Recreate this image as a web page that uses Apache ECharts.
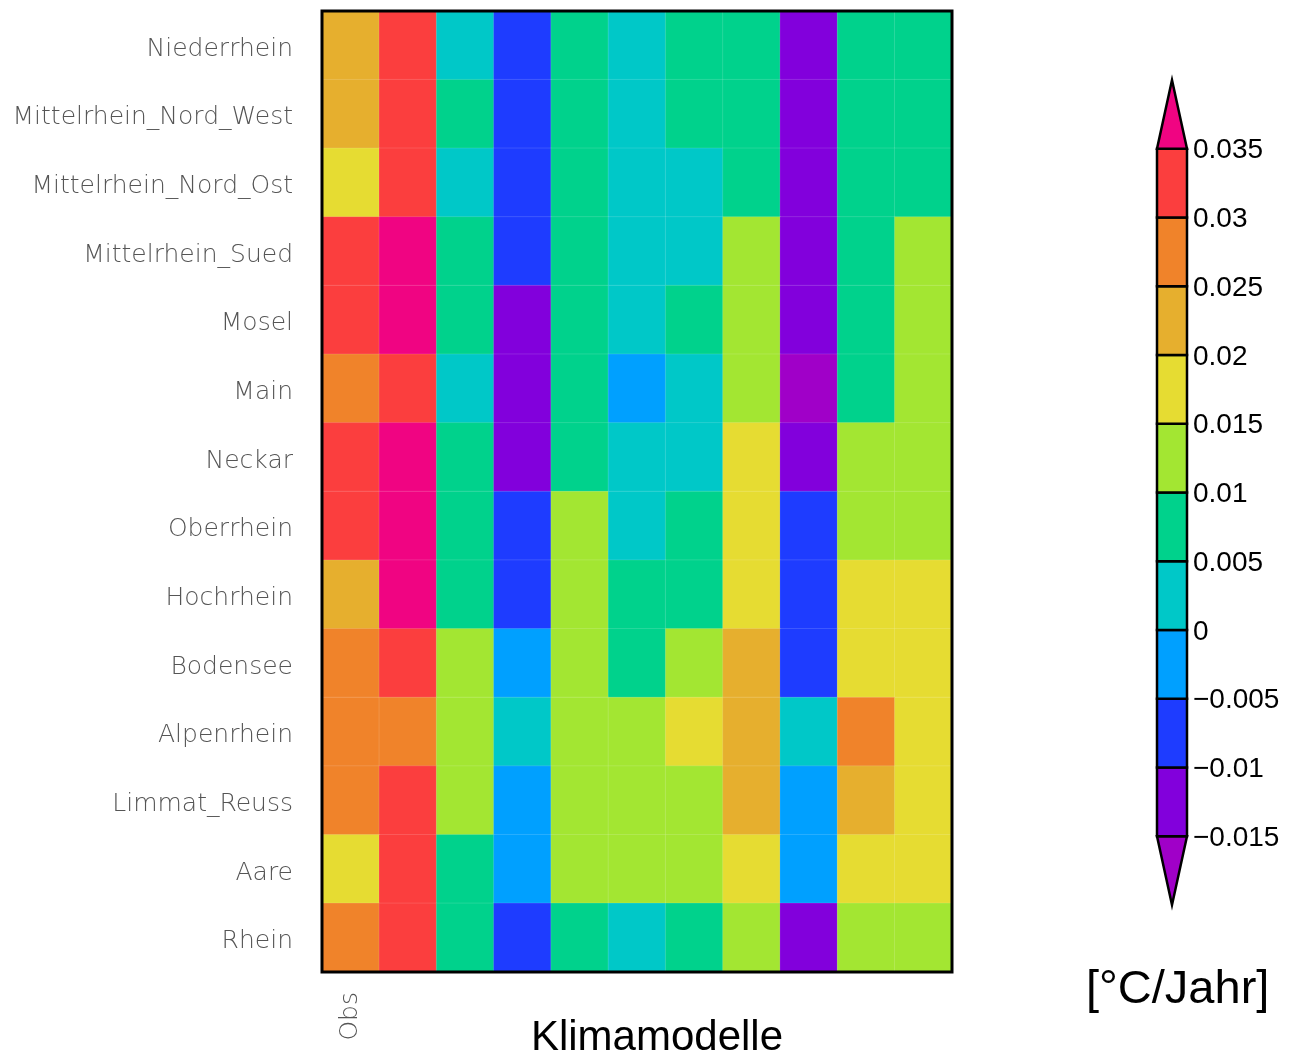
<!DOCTYPE html>
<html>
<head>
<meta charset="utf-8">
<script src="https://cdn.jsdelivr.net/npm/echarts@6/dist/echarts.min.js"></script>
<style>html,body{margin:0;padding:0;background:#fff;}#c{width:1292px;height:1057px;}</style>
</head>
<body>
<div id="c"></div>
<script>
// Regions (rows, top to bottom)
var regions = ['Niederrhein','Mittelrhein_Nord_West','Mittelrhein_Nord_Ost','Mittelrhein_Sued','Mosel','Main','Neckar','Oberrhein','Hochrhein','Bodensee','Alpenrhein','Limmat_Reuss','Aare','Rhein'];
// Columns: observation + 10 climate models (only Obs labelled)
var columns = ['Obs','M1','M2','M3','M4','M5','M6','M7','M8','M9','M10'];
var columnLabels = ['Obs','','','','','','','','','',''];

// Trend values [°C/Jahr], one array per region
var niederrhein   = [0.022, 0.032, 0.002, -0.008, 0.007, 0.002, 0.007, 0.007, -0.013, 0.007, 0.007];
var mrNordWest    = [0.022, 0.032, 0.007, -0.008, 0.007, 0.002, 0.007, 0.007, -0.013, 0.007, 0.007];
var mrNordOst     = [0.017, 0.032, 0.002, -0.008, 0.007, 0.002, 0.003, 0.007, -0.013, 0.007, 0.007];
var mrSued        = [0.031, 0.036, 0.007, -0.008, 0.007, 0.002, 0.003, 0.011, -0.013, 0.007, 0.011];
var mosel         = [0.032, 0.037, 0.007, -0.011, 0.007, 0.002, 0.008, 0.011, -0.014, 0.008, 0.011];
var main          = [0.028, 0.031, 0.003, -0.012, 0.006, -0.002, 0.002, 0.012, -0.016, 0.008, 0.012];
var neckar        = [0.032, 0.037, 0.008, -0.011, 0.007, 0.003, 0.003, 0.016, -0.013, 0.011, 0.012];
var oberrhein     = [0.033, 0.038, 0.008, -0.008, 0.011, 0.003, 0.008, 0.017, -0.009, 0.013, 0.013];
var hochrhein     = [0.024, 0.038, 0.009, -0.007, 0.012, 0.008, 0.008, 0.018, -0.009, 0.016, 0.016];
var bodensee      = [0.027, 0.031, 0.012, -0.003, 0.012, 0.008, 0.012, 0.022, -0.008, 0.017, 0.017];
var alpenrhein    = [0.026, 0.027, 0.012, 0.002, 0.012, 0.013, 0.017, 0.022, 0.002, 0.027, 0.017];
var limmatReuss   = [0.027, 0.032, 0.012, -0.003, 0.012, 0.013, 0.013, 0.022, -0.003, 0.022, 0.017];
var aare          = [0.018, 0.032, 0.008, -0.003, 0.012, 0.013, 0.013, 0.017, -0.003, 0.017, 0.017];
var rhein         = [0.027, 0.032, 0.008, -0.008, 0.007, 0.002, 0.007, 0.012, -0.013, 0.012, 0.012];
var rows = [niederrhein, mrNordWest, mrNordOst, mrSued, mosel, main, neckar, oberrhein, hochrhein, bodensee, alpenrhein, limmatReuss, aare, rhein];

// Colour scale bounds and colours
var bounds = [-0.015, -0.01, -0.005, 0, 0.005, 0.01, 0.015, 0.02, 0.025, 0.03, 0.035];
var binColors = ['#8200dc','#1e3cff','#00a0ff','#00c8c8','#00d28c','#a3e632','#e6dc32','#e6af2e','#f0832a','#fb3e3e'];
var underColor = '#a000c8';
var overColor = '#f00482';

var heatData = [];
rows.forEach(function (r, yi) {
  r.forEach(function (v, xi) { heatData.push([xi, yi, v]); });
});

var pieces = [{ lt: bounds[0], color: underColor }];
for (var i = 0; i < binColors.length; i++) {
  pieces.push({ gte: bounds[i], lt: bounds[i + 1], color: binColors[i] });
}
pieces.push({ gte: bounds[bounds.length - 1], color: overColor });

// colour bar items: [lo, hi, color, kind]
var barItems = [[bounds[0] - 0.005, bounds[0], underColor, 'down']];
for (var j = 0; j < binColors.length; j++) barItems.push([bounds[j], bounds[j + 1], binColors[j], 'rect']);
barItems.push([bounds[bounds.length - 1], bounds[bounds.length - 1] + 0.005, overColor, 'up']);

var chart = echarts.init(document.getElementById('c'));
var labelFont = { fontFamily: 'DejaVu Sans', fontWeight: 200, fontSize: 25, color: '#555' };

chart.setOption({
  backgroundColor: '#fff',
  animation: false,
  title: {
    text: '[°C/Jahr]', left: 1081, top: 962,
    textStyle: { fontFamily: 'Liberation Sans', fontWeight: 'normal', fontSize: 47, color: '#000' }
  },
  grid: [
    { left: 322, top: 11, width: 630, height: 961, show: true, z: 5, borderColor: '#000', borderWidth: 3, backgroundColor: 'transparent', outerBoundsMode: 'none', containLabel: false },
    { left: 1157, top: 80, width: 30, height: 825, outerBoundsMode: 'none', containLabel: false }
  ],
  xAxis: [
    {
      type: 'category', data: columns, gridIndex: 0,
      axisLine: { show: false }, axisTick: { show: false }, splitLine: { show: false },
      axisLabel: Object.assign({ rotate: 90, margin: 20, formatter: function (v, idx) { return columnLabels[idx]; } }, labelFont),
      name: 'Klimamodelle', nameLocation: 'middle', nameGap: 45, nameMoveOverlap: false,
      nameTextStyle: { fontFamily: 'Liberation Sans', fontSize: 42, color: '#000', padding: [0, 0, 0, 40] }
    },
    { type: 'value', gridIndex: 1, min: 0, max: 1, show: false }
  ],
  yAxis: [
    {
      type: 'category', data: regions, inverse: true, gridIndex: 0,
      axisLine: { show: false }, axisTick: { show: false }, splitLine: { show: false },
      axisLabel: Object.assign({ margin: 29, verticalAlign: 'top', lineHeight: 8 }, labelFont)
    },
    {
      type: 'value', gridIndex: 1, position: 'right', min: -0.02, max: 0.04, interval: 0.005,
      axisLine: { show: false }, axisTick: { show: false }, splitLine: { show: false },
      axisLabel: {
        margin: 6, fontFamily: 'Liberation Sans', fontSize: 28, color: '#000', verticalAlign: 'top', lineHeight: 4,
        formatter: function (v) {
          var r = Math.round(v * 1000) / 1000;
          if (r < -0.015 || r > 0.035) return '';
          var s = String(Math.abs(r));
          return (r < 0 ? '\u2212' : '') + s;
        }
      }
    }
  ],
  visualMap: {
    type: 'piecewise', show: false, seriesIndex: 0, dimension: 2, pieces: pieces
  },
  series: [
    {
      type: 'heatmap', xAxisIndex: 0, yAxisIndex: 0, data: heatData,
      itemStyle: { borderColor: 'rgba(255,255,255,0.13)', borderWidth: 1 },
      emphasis: { disabled: true }
    },
    {
      type: 'custom', xAxisIndex: 1, yAxisIndex: 1, data: barItems,
      renderItem: function (params, api) {
        var lo = api.value(0), hi = api.value(1);
        var item = barItems[params.dataIndex];
        var pLo = api.coord([0, lo]), pHi = api.coord([1, hi]);
        var x0 = pLo[0], x1 = pHi[0], yLo = pLo[1], yHi = pHi[1];
        var style = { fill: item[2], stroke: '#000', lineWidth: 2.5 };
        if (item[3] === 'rect') {
          return { type: 'rect', shape: { x: x0, y: yHi, width: x1 - x0, height: yLo - yHi }, style: style };
        } else if (item[3] === 'up') {
          return { type: 'polygon', shape: { points: [[x0, yLo], [x1, yLo], [(x0 + x1) / 2, yHi]] }, style: style };
        } else {
          return { type: 'polygon', shape: { points: [[x0, yHi], [x1, yHi], [(x0 + x1) / 2, yLo]] }, style: style };
        }
      }
    }
  ]
});
</script>
</body>
</html>
